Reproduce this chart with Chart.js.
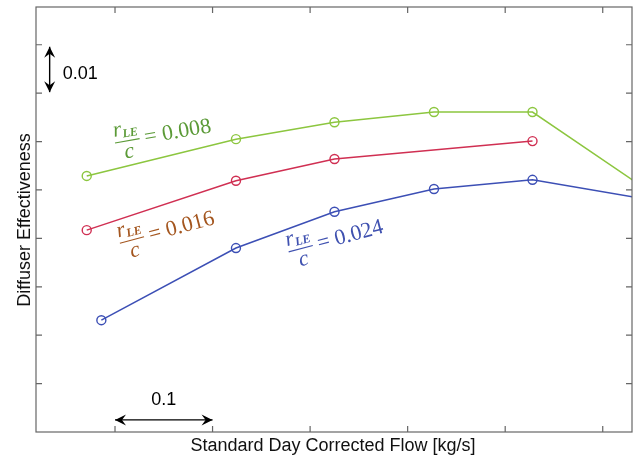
<!DOCTYPE html>
<html>
<head>
<meta charset="utf-8">
<script src="https://cdn.jsdelivr.net/npm/chart.js@4.4.1/dist/chart.umd.min.js"></script>
<style>
  body { margin: 0; background: #fff; }
  #wrap { width: 633px; height: 456px; }
</style>
</head>
<body>
<div id="wrap"><canvas id="difusorChart" width="633" height="456"></canvas></div>
<script>
// valores (fluxo corrigido, efetividade)
const fluxoVerde = [0.971, 1.124, 1.225, 1.327, 1.428, 1.550];
const efetVerde  = [0.8529, 0.8605, 0.8640, 0.8661, 0.8661, 0.8494];
const fluxoVermelho = [0.971, 1.124, 1.225, 1.428];
const efetVermelho  = [0.8417, 0.8519, 0.8564, 0.8601];
const fluxoAzul = [0.986, 1.124, 1.225, 1.327, 1.428, 1.550];
const efetAzul  = [0.8231, 0.8380, 0.8455, 0.8502, 0.8521, 0.8479];

const ticksX = [1.0, 1.1, 1.2, 1.3, 1.4, 1.5];
const ticksY = [0.81, 0.82, 0.83, 0.84, 0.85, 0.86, 0.87, 0.88];

const rotulosSerie = ['0.008', '0.016', '0.024'];

function pares(xs, ys) {
    return xs.map((x, i) => ({ x: x, y: ys[i] }));
}

function serie(nome, xs, ys, cor) {
    return {
        label: nome,
        data: pares(xs, ys),
        showLine: true,
        borderColor: cor,
        backgroundColor: 'rgba(0,0,0,0)',
        borderWidth: 1.5,
        pointRadius: 4.5,
        pointBorderWidth: 1.4,
        pointBorderColor: cor,
        pointBackgroundColor: 'rgba(0,0,0,0)',
        tension: 0
    };
}

function seta(ctx, x1, y1, x2, y2) {
    const ang = Math.atan2(y2 - y1, x2 - x1);
    ctx.beginPath();
    ctx.moveTo(x1, y1);
    ctx.lineTo(x2, y2);
    ctx.stroke();
    [[x1, y1, ang + Math.PI], [x2, y2, ang]].forEach(([x, y, a]) => {
        ctx.beginPath();
        ctx.moveTo(x, y);
        ctx.lineTo(x - 11 * Math.cos(a) + 5.5 * Math.sin(a), y - 11 * Math.sin(a) - 5.5 * Math.cos(a));
        ctx.lineTo(x - 7 * Math.cos(a), y - 7 * Math.sin(a));
        ctx.lineTo(x - 11 * Math.cos(a) - 5.5 * Math.sin(a), y - 11 * Math.sin(a) + 5.5 * Math.cos(a));
        ctx.closePath();
        ctx.fill();
    });
}

function rotuloFracao(ctx, x, y, angulo, valor, cor) {
    ctx.save();
    ctx.translate(x, y);
    ctx.rotate(angulo * Math.PI / 180);
    ctx.fillStyle = cor;
    ctx.strokeStyle = cor;
    ctx.textBaseline = 'alphabetic';
    ctx.textAlign = 'left';
    ctx.font = 'italic 22px "Liberation Serif", serif';
    ctx.fillText('r', 0, -6);
    ctx.font = 'italic bold 12px "Liberation Serif", serif';
    ctx.fillText('LE', 9, -4);
    ctx.lineWidth = 1.2;
    ctx.beginPath();
    ctx.moveTo(0, 0);
    ctx.lineTo(25, 0);
    ctx.stroke();
    ctx.font = 'italic 22px "Liberation Serif", serif';
    ctx.textAlign = 'center';
    ctx.fillText('c', 12.5, 17);
    ctx.textAlign = 'left';
    ctx.font = '22px "Liberation Serif", serif';
    ctx.fillText('= ' + valor, 30, 6);
    ctx.restore();
}

const molduraPlugin = {
    id: 'moldura',
    afterDatasetsDraw(chart) {
        const { ctx, chartArea: a, scales } = chart;
        const sx = scales.x, sy = scales.y;
        ctx.save();
        ctx.strokeStyle = '#666';
        ctx.lineWidth = 1.2;
        ctx.strokeRect(a.left, a.top, a.right - a.left, a.bottom - a.top);
        ctx.beginPath();
        ticksX.forEach(v => {
            const px = sx.getPixelForValue(v);
            ctx.moveTo(px, a.bottom); ctx.lineTo(px, a.bottom - 6);
            ctx.moveTo(px, a.top); ctx.lineTo(px, a.top + 6);
        });
        ticksY.forEach(v => {
            const py = sy.getPixelForValue(v);
            ctx.moveTo(a.left, py); ctx.lineTo(a.left + 6, py);
            ctx.moveTo(a.right, py); ctx.lineTo(a.right - 6, py);
        });
        ctx.stroke();

        // titulos dos eixos
        ctx.fillStyle = '#111';
        ctx.font = '18px "Liberation Sans", Arial, sans-serif';
        ctx.textAlign = 'center';
        ctx.textBaseline = 'alphabetic';
        ctx.fillText('Standard Day Corrected Flow [kg/s]', 333, 451);
        ctx.save();
        ctx.translate(30, 220);
        ctx.rotate(-Math.PI / 2);
        ctx.fillText('Diffuser Effectiveness', 0, 0);
        ctx.restore();

        // setas de escala
        ctx.strokeStyle = '#000';
        ctx.fillStyle = '#000';
        ctx.lineWidth = 1.4;
        const xv = sx.getPixelForValue(0.933);
        seta(ctx, xv, sy.getPixelForValue(0.88) + 2, xv, sy.getPixelForValue(0.87) - 1);
        const yh = sy.getPixelForValue(0.8025);
        seta(ctx, sx.getPixelForValue(1.0), yh, sx.getPixelForValue(1.1), yh);
        ctx.font = '18px "Liberation Sans", Arial, sans-serif';
        ctx.textAlign = 'left';
        ctx.fillText('0.01', xv + 13, sy.getPixelForValue(0.875) + 10);
        ctx.textAlign = 'center';
        ctx.fillText('0.1', sx.getPixelForValue(1.05), yh - 15);

        // rotulos das curvas
        rotuloFracao(ctx, sx.getPixelForValue(1.0), sy.getPixelForValue(0.8597), -10, rotulosSerie[0], '#5b9a37');
        rotuloFracao(ctx, sx.getPixelForValue(1.005), sy.getPixelForValue(0.8390), -15, rotulosSerie[1], '#a4561f');
        rotuloFracao(ctx, sx.getPixelForValue(1.178), sy.getPixelForValue(0.8372), -15, rotulosSerie[2], '#3f51b0');
        ctx.restore();
    }
};

function inicializarGrafico() {
    const ctx = document.getElementById('difusorChart').getContext('2d');
    new Chart(ctx, {
        type: 'scatter',
        data: {
            datasets: [
                serie('r/c = 0.008', fluxoVerde, efetVerde, '#8cc63f'),
                serie('r/c = 0.016', fluxoVermelho, efetVermelho, '#d02f52'),
                serie('r/c = 0.024', fluxoAzul, efetAzul, '#3c4fb5')
            ]
        },
        options: {
            responsive: false,
            animation: false,
            layout: { autoPadding: false, padding: { left: 36, right: 1, top: 7, bottom: 24 } },
            plugins: { legend: { display: false }, tooltip: { enabled: false } },
            scales: {
                x: { type: 'linear', display: false, min: 0.919, max: 1.530 },
                y: { type: 'linear', display: false, min: 0.80, max: 0.8878 }
            }
        },
        plugins: [molduraPlugin]
    });
}

document.addEventListener('DOMContentLoaded', inicializarGrafico);
</script>
</body>
</html>
